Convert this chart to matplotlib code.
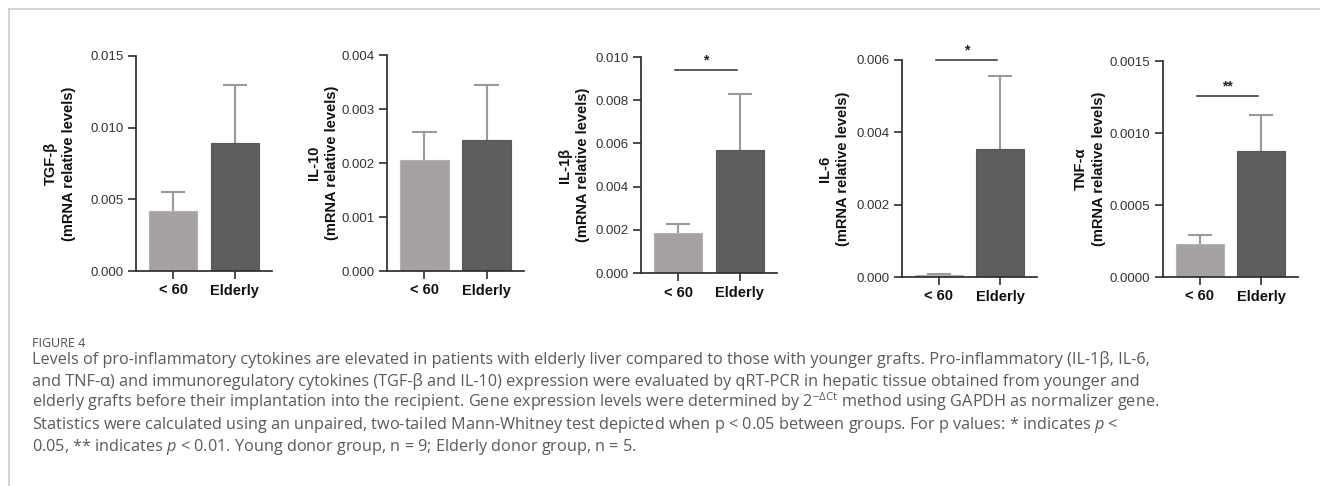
import matplotlib.pyplot as plt
from matplotlib.lines import Line2D
from matplotlib.ticker import FormatStrFormatter, MultipleLocator

plt.rcParams["font.family"] = ["Liberation Sans", "DejaVu Sans"]
plt.rcParams["mathtext.fontset"] = "custom"
plt.rcParams["mathtext.rm"] = "Open Sans"
plt.rcParams["mathtext.it"] = "Open Sans:italic"
plt.rcParams["mathtext.bf"] = "Open Sans:bold"

genes = ["TGF-β", "IL-10", "IL-1β", "IL-6", "TNF-α"]
groups = ["< 60", "Elderly"]

young_mean = [0.0042, 0.00206, 0.00185, 0.00005, 0.000229]
young_sem = [0.0013, 0.00051, 0.00042, 0.00002, 0.00006]
elderly_mean = [0.0089, 0.00242, 0.0057, 0.00355, 0.000875]
elderly_sem = [0.0041, 0.00102, 0.00259, 0.00201, 0.00025]

y_max = [0.015, 0.004, 0.010, 0.006, 0.0015]
y_step = [0.005, 0.001, 0.002, 0.002, 0.0005]
tick_fmt = ["%.3f", "%.3f", "%.3f", "%.3f", "%.4f"]

sig_label = ["", "", "*", "*", "**"]
sig_y = [None, None, 0.0094, 0.006, 0.00126]

caption_title = "FIGURE 4"
caption = [
    "Levels of pro-inflammatory cytokines are elevated in patients with elderly liver compared to those with younger grafts. Pro-inflammatory (IL-1β, IL-6,",
    "and TNF-α) and immunoregulatory cytokines (TGF-β and IL-10) expression were evaluated by qRT-PCR in hepatic tissue obtained from younger and",
    r"elderly grafts before their implantation into the recipient. Gene expression levels were determined by $2^{-\Delta \mathrm{Ct}}$ method using GAPDH as normalizer gene.",
    r"Statistics were calculated using an unpaired, two-tailed Mann-Whitney test depicted when p < 0.05 between groups. For p values: * indicates $p$ <",
    r"0.05, ** indicates $p$ < 0.01. Young donor group, n = 9; Elderly donor group, n = 5.",
]

W, H = 1320, 486
fig = plt.figure(figsize=(W / 100, H / 100), dpi=100)

# panel boxes in pixels: left, top, right, bottom
boxes = [(136, 56, 272, 271), (387, 55, 524, 271), (641, 57, 777, 273),
         (902, 60, 1037, 277), (1163, 61, 1298, 277)]
label_x = [60, 323, 574, 834, 1090]

light = "#a6a1a5"
dark = "#5e5e5e"
err_c = "#9a9a9a"
axis_c = "#2e2e2e"

for i in range(len(genes)):
    l, t, r, b = boxes[i]
    ax = fig.add_axes([l / W, 1 - b / H, (r - l) / W, (b - t) / H])
    x = [0, 1]
    means = [young_mean[i], elderly_mean[i]]
    sems = [young_sem[i], elderly_sem[i]]

    # upper error bars only, drawn behind the bars
    tops = [m + s for m, s in zip(means, sems)]
    ax.vlines(x, means, tops, color=err_c, lw=1.5, zorder=1)
    ax.hlines(tops, [xx - 0.2 for xx in x], [xx + 0.2 for xx in x], color=err_c, lw=1.5, zorder=1)
    ax.bar(x, means, width=0.78, color=[light, dark], edgecolor=["#b4b0b3", "#575757"],
           linewidth=0.8, zorder=2)

    ax.set_xlim(-0.6, 1.6)
    ax.set_ylim(0, y_max[i])
    ax.yaxis.set_major_locator(MultipleLocator(y_step[i]))
    ax.yaxis.set_major_formatter(FormatStrFormatter(tick_fmt[i]))
    ax.set_xticks(x)
    ax.set_xticklabels(groups, fontweight="bold", fontsize=10.5, color="#111111")
    ax.tick_params(axis="y", length=6, width=1.2, color=axis_c, pad=3,
                   labelsize=9.5, labelcolor="#333333")
    ax.tick_params(axis="x", length=6, width=1.2, color=axis_c, pad=3)
    for side in ["top", "right"]:
        ax.spines[side].set_visible(False)
    for side in ["left", "bottom"]:
        ax.spines[side].set_color(axis_c)
        ax.spines[side].set_linewidth(1.25)

    if sig_label[i]:
        ax.plot([-0.05, 0.95], [sig_y[i], sig_y[i]], color=axis_c, lw=1.1, clip_on=False)
        ax.annotate(sig_label[i], (0.45, sig_y[i]), xytext=(0, 4), textcoords="offset points",
                    ha="center", va="baseline", fontsize=10, fontweight="bold",
                    color="#222222", annotation_clip=False)

    fig.text(label_x[i] / W, 1 - (t + b) / 2 / H, genes[i] + "\n(mRNA relative levels)",
             rotation=90, ha="center", va="center", multialignment="center",
             fontsize=10.5, fontweight="bold", color="#111111", linespacing=1.3)

# light frame along top and left edges
fig.add_artist(Line2D([9 / W, 1], [1 - 9 / H, 1 - 9 / H], color="#c8c8c8", lw=1.1))
fig.add_artist(Line2D([9 / W, 9 / W], [1 - 9 / H, 0], color="#c8c8c8", lw=1.1))

fig.text(32 / W, 1 - 347 / H, caption_title, family="Open Sans", fontsize=9,
         color="#4f4f4f", va="baseline")
baselines = [364, 386, 407, 429, 451]
for line, yb in zip(caption, baselines):
    fig.text(32 / W, 1 - yb / H, line, family="Open Sans", fontsize=11.7,
             color="#5a5a5a", va="baseline")

fig.savefig("out.png", dpi=100)
